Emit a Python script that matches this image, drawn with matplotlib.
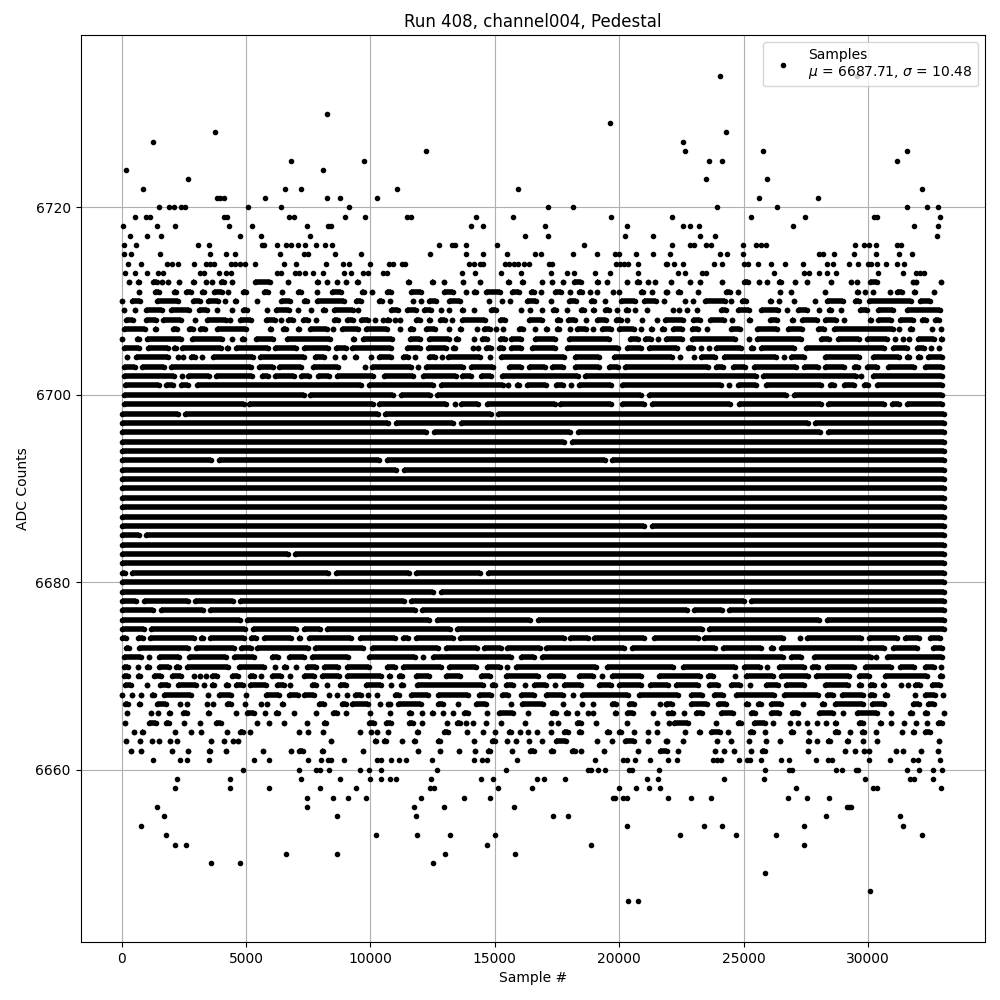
import numpy as np
import matplotlib
matplotlib.use('Agg')
import matplotlib.pyplot as plt

point_levels = [6734, 6730, 6729, 6728, 6727, 6726, 6725, 6724, 6723, 6722, 6721, 6720, 6719, 6718, 6717, 6716, 6715, 6714, 6713,
                6661, 6660, 6659, 6658, 6657, 6656, 6655, 6654, 6653, 6652, 6651, 6650, 6649, 6647, 6646]
point_samples = [
    [24040, 29560],
    [8268],
    [19639],
    [3765, 24280],
    [1273, 22560],
    [12219, 22640, 25760, 31560],
    [6820, 9755, 23600, 24120, 31160],
    [188, 8107],
    [2680, 23480, 25960],
    [871, 6579, 7223, 11056, 15949, 32160],
    [3840, 3966, 4127, 5775, 8268, 8790, 10278, 25600, 28000],
    [1514, 1916, 2117, 2399, 2559, 5092, 6419, 9152, 17153, 18155, 23920, 26360, 31560, 32360, 32800],
    [549, 992, 1152, 4127, 4248, 6740, 6941, 8991, 9795, 11457, 11617, 14225, 15749, 19680, 22120, 25280, 27480, 30240, 30360, 32880],
    [67, 1434, 2157, 4328, 5253, 7464, 8308, 8429, 14024, 14545, 17032, 20321, 22560, 22840, 23200, 27000, 31840, 32800],
    [348, 1032, 1595, 4770, 5615, 7584, 16230, 17153, 20241, 21364, 23240, 23840, 32760],
    [107, 590, 3082, 3524, 5655, 5735, 6258, 6620, 6820, 7102, 7383, 7826, 8187, 8469, 12740, 13262, 13382, 13823, 15107, 18597,
     22120, 22840, 23000, 23480, 23680, 24960, 25480, 25680, 25920, 29480, 29840, 30040, 30320, 31160, 31320],
    [107, 389, 1554, 3564, 4208, 4569, 6378, 7343, 7504, 8589, 9635, 12380, 13823, 14545, 15508, 16631, 16872, 18155, 19118, 19840,
     20000, 20682, 21364, 22040, 24040, 24320, 24960, 28040, 28200, 28640, 29440, 30320, 31240, 31760],
    [268, 791, 1836, 2037, 2278, 2921, 3404, 3564, 3725, 4409, 4569, 4770, 4971, 5373, 6539, 7022, 8228, 8911, 9152, 9996, 10735, 10895,
     11256, 11377, 13944, 14144, 14385, 14545, 15428, 15588, 15789, 15949, 16190, 16390, 17193, 17313, 19880, 20040, 20201, 20361, 20762,
     21886, 21920, 22200, 22560, 23800, 24120, 25000, 25160, 25560, 26120, 26680, 27400, 28360, 28600, 29240, 29600, 30000, 30120, 30360,
     30720, 31160, 31440],
    [147, 549, 1032, 1474, 1675, 3162, 3323, 3926, 4208, 4409, 6258, 6419, 6981, 7142, 7383, 7705, 8107, 8951, 9233, 9715, 9916, 10519,
     10653, 13663, 14184, 15267, 16070, 17273, 17915, 18195, 19038, 19639, 20762, 22360, 22640, 23320, 23480, 26240, 27440, 27640, 28040,
     28370, 28720, 30400, 31400, 31920, 32080, 32240],
    [1273, 2358, 2640, 3524, 5333, 5936, 7504, 8027, 8308, 8429, 8951, 10278, 10439, 10815, 11136, 11417, 12460, 14144, 14505, 14706,
     15909, 19038, 20161, 20321, 20642, 21244, 21960, 22320, 23760, 23920, 24080, 24800, 25120, 25240, 25680, 26520, 26840, 27920, 28400,
     28560, 30040, 30880, 31800, 32000, 32880],
    [4891, 7142, 7826, 7986, 8348, 9594, 9956, 10439, 12660, 15468, 18757, 18877, 19158, 19439, 20400, 20522, 21605, 25840, 26840, 26960,
     28720, 28960, 29520, 29600, 31560, 32040, 32600, 32960],
    [2238, 4368, 7223, 8790, 9996, 10439, 10775, 11016, 12420, 14465, 14947, 16711, 16992, 17834, 21124, 21565, 24200, 25800, 29880, 31680,
     31840, 32600],
    [2157, 4368, 5936, 7986, 9434, 12380, 12540, 15147, 16511, 20000, 20682, 21204, 21645, 27120, 30200, 30360, 32920],
    [7464, 8509, 9112, 9836, 12018, 13743, 14826, 19760, 19840, 20161, 20321, 21960, 22880, 23680, 26800, 27560, 28440],
    [1434, 7464, 11738, 12941, 15789, 29160, 29240, 29320],
    [1715, 8670, 11818, 17353, 17955, 28320, 31280],
    [791, 20321, 23400, 24120, 27440, 31400],
    [1796, 10238, 11858, 13182, 15000, 22440, 24680, 26320, 32160],
    [2157, 2600, 14706, 18877, 27440],
    [6620, 8670, 12981, 15829],
    [3605, 4770, 12500],
    [25880],
    [30080],
    [20361, 20762],
]

# rows of touching samples, given as (first, last) runs or a lone sample
run_levels = [6712, 6711, 6710, 6709, 6708, 6707, 6706, 6705, 6704, 6703, 6702, 6701, 6700, 6699,
              6674, 6673, 6672, 6671, 6670, 6669, 6668, 6667, 6666, 6665, 6664, 6663, 6662]
run_samples = [
    [310, (550, 790), (1270, 1430), 1630, 1880, 2320, (2760, 3000), 3400, 3640, (3890, 4210), 4450, (5290, 6060), 6700, (7750, 7990), 8270, 8670, 9030,
     (9390, 9590), (11440, 11630), (12400, 12610), 12940, 13740, 14410, (15450, 15680), (16020, 16230), 16900, 17310, 17750, (18090, 18560),
     (19000, 19230), 19490, 20320, (20630, 20900), 21160, 21440, 22080, 22840, 23240, 24120, (24930, 25270), 25600, 25960, (26330, 26600), 27080,
     27560, 28520, 29320, 29560, (30000, 30440), 31800, 31930, 32920],
    [710, (1270, 1590), (2000, 2280), (2480, 2880), (3160, 3400), (3640, 4130), 4290, (4890, 5010), (5650, 5980), (6340, 6540), (7100, 7220), 7870,
     (8350, 8910), (9590, 9840), 10080, (10570, 10930), (11540, 12140), (12870, 13410), 13860, (14080, 14350), (14550, 15280), (15590, 16070),
     (16350, 16680), 16850, (17310, 17750), 18030, (18290, 18580), 18840, 19120, 19760, 20000, (20800, 21030), 21320, 21890, 21920, (22280, 22520),
     23160, (24200, 24560), 24760, 26480, (26800, 27000), 28280, (29470, 29670), 29880, 30200, 30880, (31080, 31470), (31760, 31960), 32640],
    [30, (310, 830), (1350, 2360), (2760, 3240), (3400, 3970), 4170, (4450, 4690), 5450, (6300, 6860), (7260, 7540), (7750, 9030), (9350, 9720),
     (10240, 10560), 10770, 11700, 12020, (12270, 12740), (13070, 13680), 14750, 15270, 15630, (16190, 16750), 17270, (17890, 18360), (18760, 19090),
     19440, (20000, 20720), (20900, 21560), 21810, 22640, 22960, (23350, 24330), 24480, (24840, 25200), (25960, 26200), 26440, 27040, (27760, 27960),
     (28280, 29080), (29400, 29720), (29930, 31800), (32000, 32600)],
    [110, 550, (910, 1720), (1880, 2800), (3040, 3520), 3850, (4330, 4530), (4770, 5130), 5860, (6100, 6820), 7100, 7620, (7990, 8270), (8430, 9390), 9510,
     (10730, 11200), (11400, 11940), (12070, 12540), 12820, 13140, (13580, 13820), 14180, (14750, 15150), 16070, 16430, 16910, (17230, 17550), 17910,
     (18360, 18690), (18850, 19090), (19330, 19690), 19920, (20200, 20430), 20640, 21100, 22160, 22400, 22720, 23120, (24000, 24400), (24680, 25290),
     (25600, 26470), 26760, (27100, 27640), 28040, (28330, 28600), 28920, (29600, 30040), (30310, 31110), (31470, 33000)],
    [(70, 550), (910, 1470), (1590, 2480), 2960, (3360, 4290), 4370, (4650, 5290), (5700, 6260), 6420, (6580, 6980), (7220, 7580), 7830, (8550, 8710),
     (8950, 9390), (9550, 9990), 10200, 10520, (10670, 10760), 11000, 11200, (11740, 12070), (12250, 12500), (12700, 13070), 13270, (13580, 14680),
     (15110, 15480), (16280, 16990), (17390, 17730), (17860, 18320), 18660, (19000, 19560), (19800, 20160), 20320, 20920, 21520, (21770, 22670),
     (22890, 23330), (23560, 24320), 24520, (25130, 25360), (25960, 26440), (26840, 27080), (27240, 28040), (28200, 28800), 29040, (30000, 30200),
     (30330, 31000), (31210, 31910), (32090, 32440), (32600, 32930)],
    [(0, 1030), (1270, 1470), (1960, 2320), (2600, 2960), (3080, 3440), (3730, 5090), (5860, 6100), (6380, 6700), (6980, 7220), (7500, 8350), 8510,
     (8750, 9590), (9720, 10760), 11170, (11500, 11800), (12140, 12700), 13140, (13500, 13740), 14280, (14480, 14880), 15040, 15320, (15880, 16230), 16630,
     (16950, 17190), (17390, 17690), 18020, (18200, 18760), 18930, (19200, 19760), (19920, 20690), 20860, (21200, 21400), (21630, 21900),
     (22080, 22600), (22840, 23270), 23520, (24400, 24960), (25440, 26440), (26680, 27440), (27920, 28320), (28560, 31080), 31240, (31600, 31840), 32560, 32920],
    [30, (510, 790), (950, 2480), (2720, 4130), 4450, (4730, 5010), (5330, 6180), (6540, 8470), (9230, 9430), (9630, 10940), (11500, 12100), (12250, 13240),
     (13370, 13610), 14180, (14410, 14790), (15110, 15480), (15550, 16150), (16510, 17490), (17890, 19690), (20360, 20830), (20960, 21360), 21550,
     (21810, 22600), (22840, 24760), 25200, (25440, 27400), (28040, 28530), (28710, 29730), (29870, 30870), 31070, 31400, 31640, (31930, 32730), (32860, 33060)],
    [(0, 800), (980, 1940), (2010, 2280), (2350, 4090), (4150, 4350), (4490, 5960), (6070, 7100), (7240, 8380), (8510, 9100), (9180, 10930), (11400, 12070),
     (12210, 13140), (13210, 13480), 14140, 14340, (14550, 14950), (15080, 15410), (15550, 16150), (16420, 17490), (17830, 20030), (20230, 20960),
     (21100, 22400), (22670, 23070), 23270, 23600, (23800, 25000), (25200, 25470), (25600, 27130), (27400, 30730), (30930, 31670), (31870, 32330), 32530, 32870],
    [200, (470, 1940), 2280, 2480, (2680, 3020), 3220, (3580, 5360), (5490, 7440), (7700, 8240), 8590, 8940, (9310, 9510), (9920, 10120), (10250, 10930),
     (11200, 11600), 11810, (12270, 12670), 12880, (13010, 14480), 14810, (15150, 17890), (18150, 19290), (19690, 22200), 22440, 23000, (23200, 23930),
     (24130, 26400), 26630, (26800, 27530), (28200, 29730), (30130, 31330), (31470, 31730), (31930, 32200), (32330, 33060)],
    [(0, 630), (710, 1780), (1880, 5290), (5430, 6160), (6230, 7300), (7600, 8800), 9780, (9980, 11740), (11810, 12010), (12140, 13810), (13940, 15010),
     (15480, 16150), (16280, 17090), (17220, 17820), (18150, 19290), (19490, 20030), (20160, 23670), (23800, 24270), (24470, 25130), (25330, 27200),
     (27330, 28070), (28200, 29130), (29330, 29670), (29870, 30470), (30730, 31930), (32200, 33060)],
    [(0, 2180), 2410, (2590, 3620), (3710, 5320), (5560, 5960), (6070, 7030), (7140, 7640), (7810, 8440), (8580, 10180), (10450, 11810), (12010, 13540),
     (13610, 14140), (14340, 14950), (15210, 18420), (18550, 25600), (25670, 29600), 29730, (30130, 33060)],
    [(40, 1580), (1680, 2140), (2280, 2770), (2920, 9720), (9850, 12600), (12740, 15410), 15550, (15810, 16080), (16220, 17150), (17350, 17820), 18050,
     (18290, 19760), (20030, 24200), 24400, (24670, 25600), (25800, 28200), (28400, 28730), (28930, 29530), (29730, 30070), (30270, 33060)],
    [(0, 7440), (7500, 11000), (11140, 12470), (12600, 20960), (21100, 26800), (26930, 33060)],
    [(0, 5000), (5050, 10180), (10250, 13140), 13410, (13540, 14410), (14610, 17490), (17550, 19760), (20030, 21100), (21230, 24530), (24730, 28200),
     (28290, 30730), (30870, 31330), (31470, 33060)],
    [(0, 170), (580, 940), (1070, 2990), (3120, 3350), (3480, 5000), (5120, 5490), (5650, 6900), (7030, 7240), (7440, 9310), (9510, 11070), (11200, 11600),
     (11740, 13410), (13500, 17890), (17950, 18820), (18890, 21100), (21300, 23240), (23330, 26670), 27270, (27470, 29800), (29930, 31270), (31400, 32130), (32400, 33000)],
    [(90, 380), (600, 2750), (2880, 4620), (4690, 5290), (5360, 7570), (7700, 9780), (9980, 12810), (12950, 14380), (14480, 15350), (15410, 16890), (16950, 20290),
     (20430, 23930), (24090, 25800), (26000, 26270), (26400, 30730), (30930, 32070), (32530, 33060)],
    [(0, 870), (1000, 1210), (1410, 2410), (2610, 4290), (4420, 5430), (5960, 6370), (6630, 7440), (7570, 9180), (9850, 11870), 12110, (12410, 15750),
     (15950, 16680), (16820, 26670), (26800, 27400), (27730, 30200), 30330, (30670, 33060)],
    [(10, 360), 670, (940, 1210), (1430, 2010), (2100, 2410), (2550, 4360), (4620, 5830), 6180, (6430, 6700), 7010, (7370, 7910), (8040, 8780), (8980, 10050),
     (10590, 11070), (11200, 12940), (13070, 14340), (14610, 15280), 15480, (15750, 19160), (19430, 22270), (22470, 24730), (24930, 25730), 25930, (26330, 27530),
     (27670, 28070), (28270, 29530), (29800, 31000), (31200, 31930), (32200, 32730), 32930],
    [(0, 330), (580, 830), (1210, 1680), (1940, 2480), 2920, 3160, 3400, (3640, 3820), (4360, 4760), (5090, 5430), 5590, (5940, 6500), 6780, (7240, 7840),
     (7970, 8840), (8980, 10520), (10650, 10870), (11070, 11340), (11750, 12460), (12940, 13680), (14340, 14880), (15350, 16820), (17090, 17820), (18290, 19030),
     19320, (19630, 20960), (21500, 23330), (23470, 23870), 24670, (25000, 26270), (26400, 27670), (27800, 29330), (29530, 30130), (30600, 32470), (32800, 33060)],
    [(40, 470), 1010, (1470, 1940), (2180, 3080), 3320, (3550, 3820), (4110, 4360), (4490, 4960), (5090, 5900), (6160, 6630), 6780, (7570, 7910), 8270,
     (8670, 9110), (9720, 10520), 10810, (11140, 11400), (11800, 14610), (14810, 15080), (15350, 15820), 16220, (16480, 17150), 17420, (17690, 18560),
     (19090, 19760), (19890, 20960), (21160, 22070), (22200, 23270), (23530, 24070), (24400, 24930), 25270, (25800, 26470), (26600, 27530), (28200, 29270),
     (29530, 29800), (30000, 30330), (30530, 30730), 31330, 31600, (31800, 32200), (32470, 33000)],
    [0, 430, 790, (1140, 1410), (1610, 2880), 3480, (3820, 4490), (4890, 5090), (5700, 6430), (6630, 7170), (7260, 7840), 8350, 8640, 9070, (9310, 9720), 9920, 10280,
     (11000, 11140), (11540, 12410), (12610, 14010), (14280, 14950), (15210, 15610), (15950, 16680), (16950, 17820), 18150, (18420, 20430), (20700, 22470),
     (22800, 23400), (23730, 24270), (24600, 26330), (26530, 28070), (28270, 28670), (28870, 29870), (30000, 30330), (30600, 30870), 31870, (32200, 32800), 33000],
    [(40, 330), (600, 830), (1340, 1880), 2350, 2640, 3440, 3690, (4150, 4490), 4970, 5620, 5860, (6370, 6570), (7840, 8240), (8780, 9110), (9180, 9980), 10370, 10720,
     10770, (11000, 12140), (12610, 13010), 13540, (14140, 14750), (15550, 15750), (16020, 17020), 17750, 18500, 18960, (19630, 19960), (20290, 20700), 21630, 21900,
     (21800, 22200), (22800, 23600), (23870, 24400), (25000, 25270), (25470, 25800), (26000, 26600), 27400, (28070, 28330), (28600, 29870), (30070, 30730), (31730, 32130), (32330, 32730)],
    [230, 1190, 1470, (1830, 2050), (2380, 2720), (3400, 3620), 4610, (4930, 5430), 5760, (6100, 6370), 6940, 7830, (8510, 8670), (8910, 9110), 9990, 10770,
     (11470, 11740), 12060, (12380, 12610), 12900, 13300, (13680, 14010), 14670, (15080, 15820), 16350, (17190, 17550), (17790, 18020), 18320, 18760, 18960,
     (19760, 19960), (20230, 20630), 21360, 21970, (22000, 22270), 22600, (23000, 23400), (24000, 24670), (25200, 25530), (26000, 26530), (26870, 27270),
     (27930, 28670), 29000, (29470, 30470), 30930, (31600, 31870), (32200, 32470), 33040],
    [150, (1000, 1470), (1680, 2010), 2520, 3160, (3690, 4090), 5450, 5940, (6430, 6630), 7460, (8040, 8310), (9850, 10250), (10530, 10930), (11470, 11800), 12060,
     13060, (13410, 13680), 13840, 14140, 14630, (15150, 15350), 16230, 17270, 17550, (18220, 18560), (18960, 19160), 20320, 21520, 22000, (22130, 22870),
     (23800, 24000), (24670, 25000), (25330, 25930), 26200, 26880, 27200, 27560, 27960, 28320, (28600, 28800), (29530, 29870), (30400, 30600), 30920, 31440, 31920,
     32360, (32730, 33060)],
    [510, (740, 940), 2160, 2790, 3200, 4250, (4650, 4970), 5170, 7140, 7500, 8110, 9590, 10040, 10280, (10600, 10800), (11800, 12010), (12870, 13210), 13900, 14510,
     15000, (15480, 15750), 16030, 16350, 16710, (17150, 17350), (17790, 17950), (18290, 18560), (19430, 19690), (19920, 20160), 20600, 21160, 21520, 22630,
     (23130, 23330), (23600, 24130), 24360, (25160, 25470), 25880, (26800, 27070), 27640, (28600, 28870), 29280, (29670, 29930), 30330, 31360, (31730, 31930), (32200, 32600)],
    [190, 750, 1230, 1510, 1960, 2240, 3600, 4130, 4490, 4690, (8310, 8510), (10080, 10320), (10470, 10730), 11260, (11670, 11870), (12610, 12870), 14180,
     (14810, 15080), 15510, 15870, 16390, 16910, (17350, 17950), 19120, 19720, (20160, 20700), 21160, 21890, 21920, 22560, 23920, (24400, 24600), 25200, 25920, 26480,
     (27480, 27730), 27960, (28320, 28560), (29080, 29280), 29800, 30360, 32840],
    [390, (670, 870), 2040, 2680, (3440, 3640), 4210, 5700, 6820, (7140, 7300), (7970, 8170), 9720, 11900, 12780, 13580, 14220, (14630, 14880), 15710, (16420, 16580),
     (17270, 17350), (18090, 18220), 18480, 19400, 20760, (21560, 22000), 22360, 23840, 24200, 24600, 25280, (25730, 25870), 27600, 29080, 29480, 29840, 30040, 31120,
     31400, 32120, 32800],
]

# core rows are full width, only the few breaks are listed
solid_levels = [6698, 6697, 6696, 6695, 6694, 6693, 6692, 6691, 6690, 6689, 6688, 6687, 6686, 6685, 6684, 6683, 6682, 6681, 6680, 6679, 6678, 6677, 6676, 6675]
solid_gaps = [
    [2410, 10450, 14980],
    [10870, 13480, 27730],
    [12400, 18180, 28240],
    [17940],
    [],
    [3750, 10510, 19560],
    [11180],
    [], [], [], [], [],
    [21160],
    [830],
    [],
    [6830],
    [],
    [270, 8450, 11700, 14570],
    [],
    [12670],
    [740, 2810, 4620, 11500, 25160],
    [1430, 3420, 11930, 22870, 24270],
    [4890, 12510, 16580, 28200],
    [1030, 5120, 7170, 8110, 13340, 23470],
]
sample_first = 0
sample_last = 33050

title = 'Run 408, channel004, Pedestal'
legend_label = 'Samples\n$\\mu$ = 6687.71, $\\sigma$ = 10.48'

# runs were read at the blob edges, the marker radius adds that back
run_trim = 90

xs, ys = [], []
seg_y, seg_a, seg_b = [], [], []

for lev, row in zip(point_levels, point_samples):
    xs += row
    ys += [lev] * len(row)

for lev, row in zip(run_levels, run_samples):
    for item in row:
        a, b = item if isinstance(item, tuple) else (item, item)
        if b - a > 2 * run_trim:
            a, b = a + run_trim, b - run_trim
        xs += [a, b]
        ys += [lev, lev]
        if b > a:
            seg_y.append(lev); seg_a.append(a); seg_b.append(b)

for lev, gaps in zip(solid_levels, solid_gaps):
    edges = [sample_first] + [v for g in gaps for v in (g - 150, g + 150)] + [sample_last]
    for a, b in zip(edges[::2], edges[1::2]):
        xs += [a, b]
        ys += [lev, lev]
        seg_y.append(lev); seg_a.append(a); seg_b.append(b)

fig, ax = plt.subplots(figsize=(10, 10), dpi=100)
ax.hlines(seg_y, seg_a, seg_b, colors='k', linewidth=4, zorder=2)
ax.plot(xs, ys, 'k.', label=legend_label)
ax.set_xlabel('Sample #')
ax.set_ylabel('ADC Counts')
ax.set_title(title)
ax.grid(True)
ax.legend(loc='upper right')
fig.subplots_adjust(left=0.0805, right=0.985, top=0.965, bottom=0.058)
fig.savefig('out.png')
